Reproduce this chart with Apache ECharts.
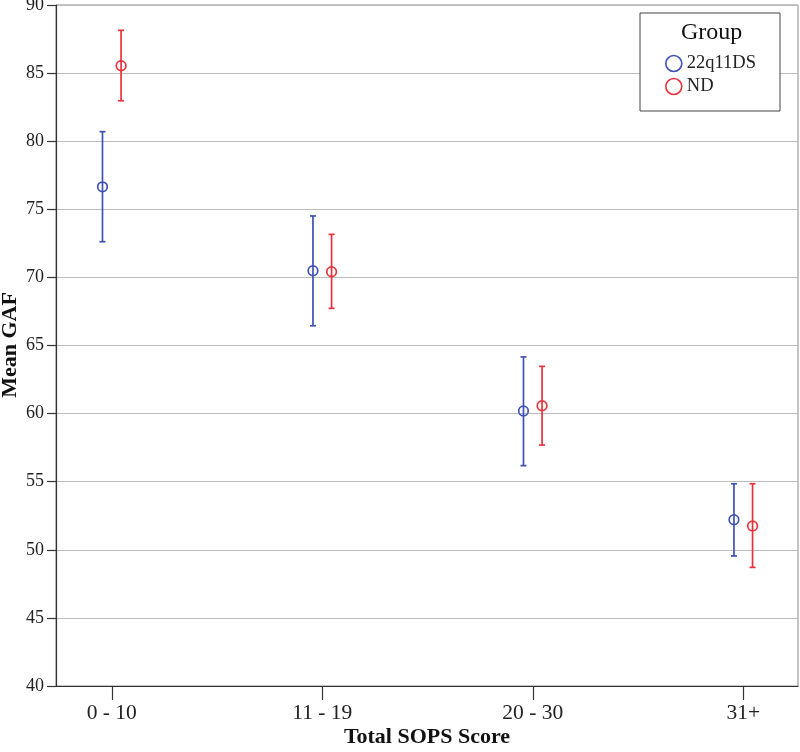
<!DOCTYPE html>
<html>
<head>
<meta charset="utf-8">
<script src="https://cdn.jsdelivr.net/npm/echarts@6/dist/echarts.min.js"></script>
<style>html,body{margin:0;padding:0;background:#fff}#c{width:800px;height:752px}</style>
</head>
<body>
<div id="c"></div>
<script>
var categories = ['0 - 10', '11 - 19', '20 - 30', '31+'];
var yTicks = [40, 45, 50, 55, 60, 65, 70, 75, 80, 85, 90];
var groups = ['22q11DS', 'ND'];
var meanDS = [76.65, 70.49, 60.19, 52.21];
var lowDS  = [72.62, 66.45, 56.18, 49.55];
var highDS = [80.70, 74.51, 64.16, 54.85];
var meanND = [85.54, 70.42, 60.58, 51.75];
var lowND  = [82.97, 67.73, 57.69, 48.71];
var highND = [88.14, 73.16, 63.47, 54.85];

var BLUE = '#3f52b5';
var RED = '#e8323c';
var FONT = '"Liberation Serif", "DejaVu Serif", serif';

function rows(mean, low, high) {
  return categories.map(function (c, i) { return [i + 1, mean[i], low[i], high[i]]; });
}

function makeRender(color, dx) {
  return function (params, api) {
    var x = api.value(0);
    var c = api.coord([x, api.value(1)]);
    var lo = api.coord([x, api.value(2)]);
    var hi = api.coord([x, api.value(3)]);
    var px = c[0] + dx;
    var st = { stroke: color, lineWidth: 1.7, fill: null };
    return {
      type: 'group',
      children: [
        { type: 'line', shape: { x1: px, y1: hi[1], x2: px, y2: lo[1] }, style: st },
        { type: 'line', shape: { x1: px - 3, y1: hi[1], x2: px + 3, y2: hi[1] }, style: st },
        { type: 'line', shape: { x1: px - 3, y1: lo[1], x2: px + 3, y2: lo[1] }, style: st },
        { type: 'circle', shape: { cx: px, cy: c[1], r: 4.8 }, style: { stroke: color, lineWidth: 1.7, fill: 'rgba(0,0,0,0)' } }
      ]
    };
  };
}

var chart = echarts.init(document.getElementById('c'), null, { renderer: 'canvas' });
chart.setOption({
  backgroundColor: '#fff',
  animation: false,
  textStyle: { fontFamily: FONT },
  grid: { left: 56, right: 2, top: 5, bottom: 66, containLabel: false, outerBoundsMode: 'none',
    show: true, borderColor: '#8a8a8a', borderWidth: 1, backgroundColor: 'transparent' },
  xAxis: {
    type: 'value', min: 0.735, max: 4.26,
    name: 'Total SOPS Score', nameLocation: 'middle', nameGap: 40, nameMoveOverlap: false,
    nameTextStyle: { fontFamily: FONT, fontSize: 22, fontWeight: 'bold', color: '#111' },
    axisLine: { show: true, lineStyle: { color: '#333', width: 1.2 } },
    axisTick: { show: true, length: 14, customValues: [1, 2, 3, 4], lineStyle: { color: '#333', width: 1.2 } },
    axisLabel: { customValues: [1, 2, 3, 4], margin: 16, fontFamily: FONT, fontSize: 21.5, color: '#222',
      formatter: function (v) { return categories[Math.round(v) - 1] || ''; } },
    splitLine: { show: false }
  },
  yAxis: {
    type: 'value', min: 40, max: 90, interval: 5,
    axisLine: { show: true, lineStyle: { color: '#333', width: 1.2 } },
    axisTick: { show: true, length: 9, lineStyle: { color: '#333', width: 1.2 } },
    axisLabel: { margin: 12, fontFamily: FONT, fontSize: 18, color: '#222',
      formatter: function (v) { return yTicks.indexOf(v) >= 0 ? String(v) : ''; } },
    splitLine: { show: true, lineStyle: { color: '#bcbcbc', width: 1 } }
  },
  legend: {
    orient: 'vertical', left: 640, top: 13,
    padding: [41, 24, 15, 25],
    itemWidth: 16, itemHeight: 16, itemGap: 4,
    borderColor: '#444', borderWidth: 1, backgroundColor: '#fff',
    textStyle: { fontFamily: FONT, fontSize: 18.5, color: '#222' },
    data: [
      { name: groups[0], icon: 'circle', itemStyle: { color: 'rgba(0,0,0,0)', borderColor: BLUE, borderWidth: 1.6 } },
      { name: groups[1], icon: 'circle', itemStyle: { color: 'rgba(0,0,0,0)', borderColor: RED, borderWidth: 1.6 } }
    ]
  },
  graphic: [{
    type: 'text', left: 681, top: 21, z: 100,
    style: { text: 'Group', font: '24px ' + FONT, fill: '#111' }
  }, {
    type: 'text', x: 10, y: 345, rotation: Math.PI / 2, z: 100,
    style: { text: 'Mean GAF', font: 'bold 22px ' + FONT, fill: '#111', align: 'center', verticalAlign: 'middle' }
  }],
  series: [
    { type: 'custom', name: groups[0], itemStyle: { color: BLUE }, data: rows(meanDS, lowDS, highDS), renderItem: makeRender(BLUE, -9.3), clip: false },
    { type: 'custom', name: groups[1], itemStyle: { color: RED }, data: rows(meanND, lowND, highND), renderItem: makeRender(RED, 9.3), clip: false }
  ]
});
</script>
</body>
</html>
